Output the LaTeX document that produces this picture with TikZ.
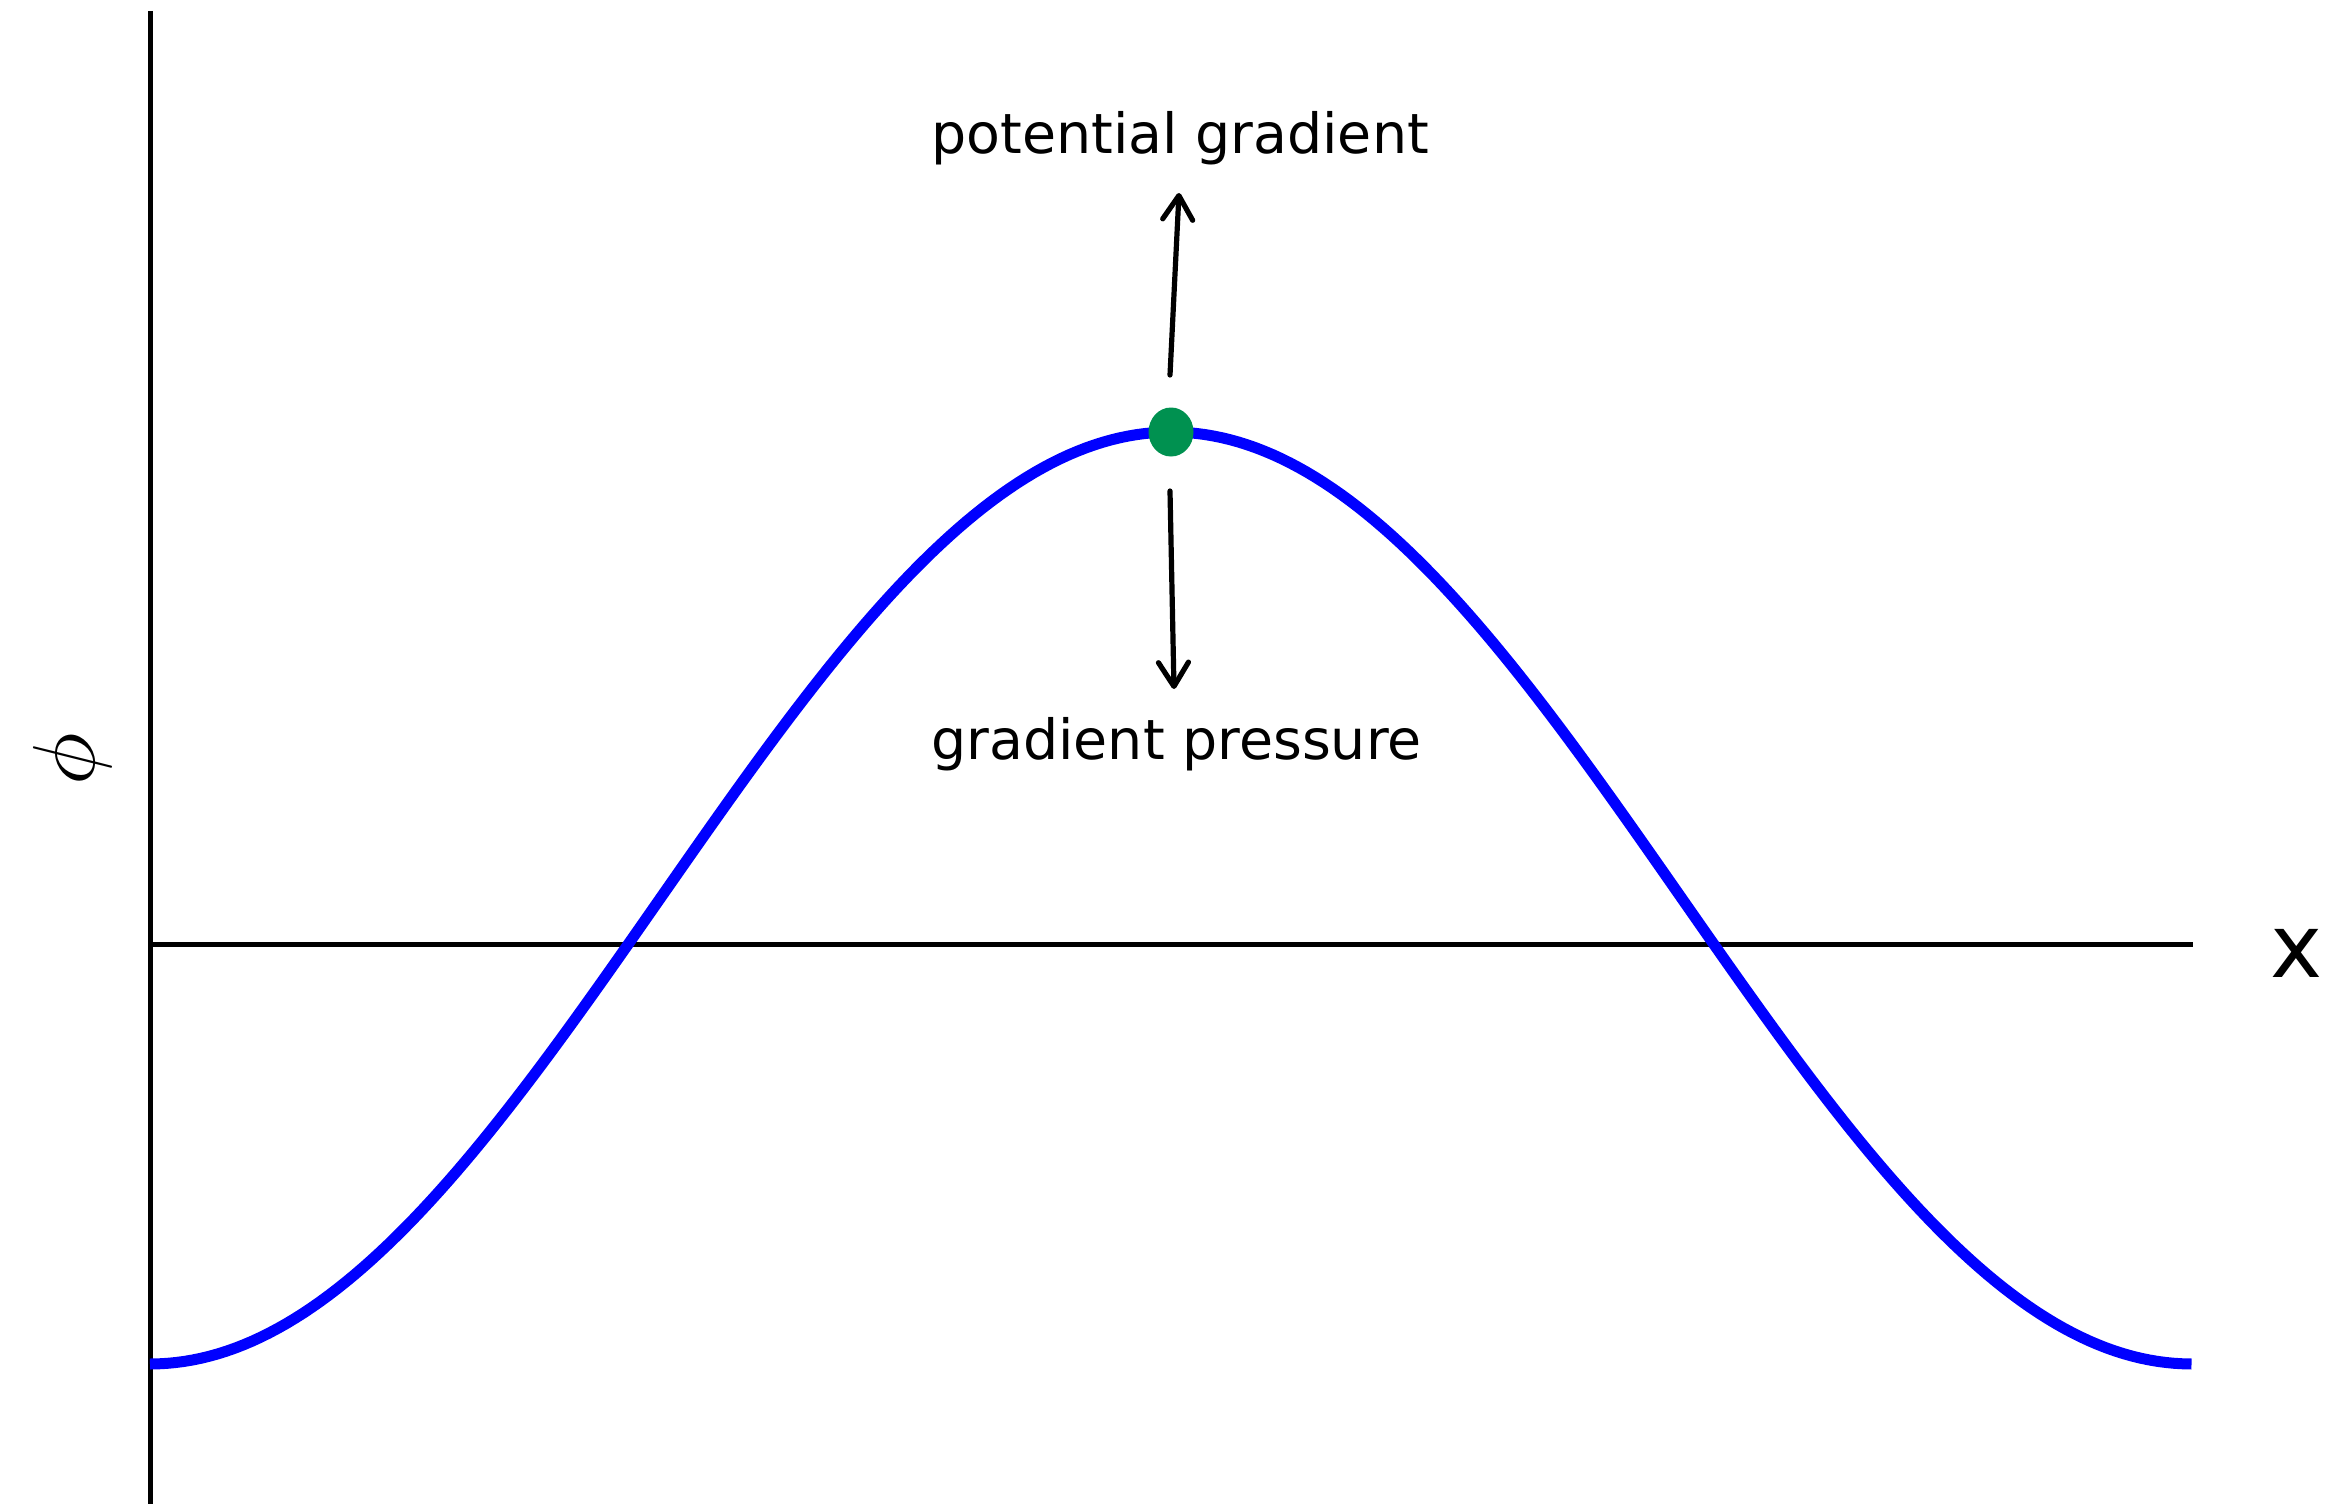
\documentclass[tikz,border=0pt]{standalone}
\usepackage{fontspec}
\setmainfont{DejaVu Sans}
\usetikzlibrary{arrows.meta,shapes.geometric}
\definecolor{dotgreen}{RGB}{0,145,80}
\tikzset{
  axisline/.style={line width=2.5pt, black},
  curveline/.style={line width=5.5pt, blue},
  gradarrow/.style={line width=2.6pt, line cap=round, -{Straight Barb[length=12pt,width=15pt,line width=2.6pt,round]}},
  lab/.style={inner sep=0pt, font=\fontsize{27.7}{33}\selectfont},
}
\begin{document}
\begin{tikzpicture}[x=0.5pt,y=-0.5pt]
\useasboundingbox (0,0) rectangle (2346,1504);
% axes
\coordinate (vtop) at (150,11);
\coordinate (vbot) at (150,1504);
\coordinate (hleft) at (150,944);
\coordinate (hright) at (2193,944);
\draw[axisline] (vtop) -- (vbot);
\draw[axisline] (hleft) -- (hright);
% curve
\draw[curveline] plot[domain=0:2, samples=241, variable=\t] ({150+1021*\t},{898+466*cos(180*\t)});
% green dot
\node[ellipse, fill=dotgreen, minimum width=22.5pt, minimum height=24.5pt, inner sep=0pt] (dot) at (1171,432) {};
% arrows
\coordinate (ua) at (1170,375);
\coordinate (ub) at (1179,193);
\coordinate (da) at (1170,491);
\coordinate (db) at (1174,689);
\draw[gradarrow] (ua) -- (ub);
\draw[gradarrow] (da) -- (db);
% labels
\node[lab, anchor=base west] (pg) at (931,154) {potential gradient};
\node[lab, anchor=base west] (gp) at (931,759) {gradient pressure};
\node[inner sep=0pt, font=\fontsize{44}{50}\selectfont] (xl) at (2297,953) {x};
\node[inner sep=0pt, rotate=90] (phil) at (72,759) {\scalebox{4.4}{$\phi$}};
\end{tikzpicture}
\end{document}
